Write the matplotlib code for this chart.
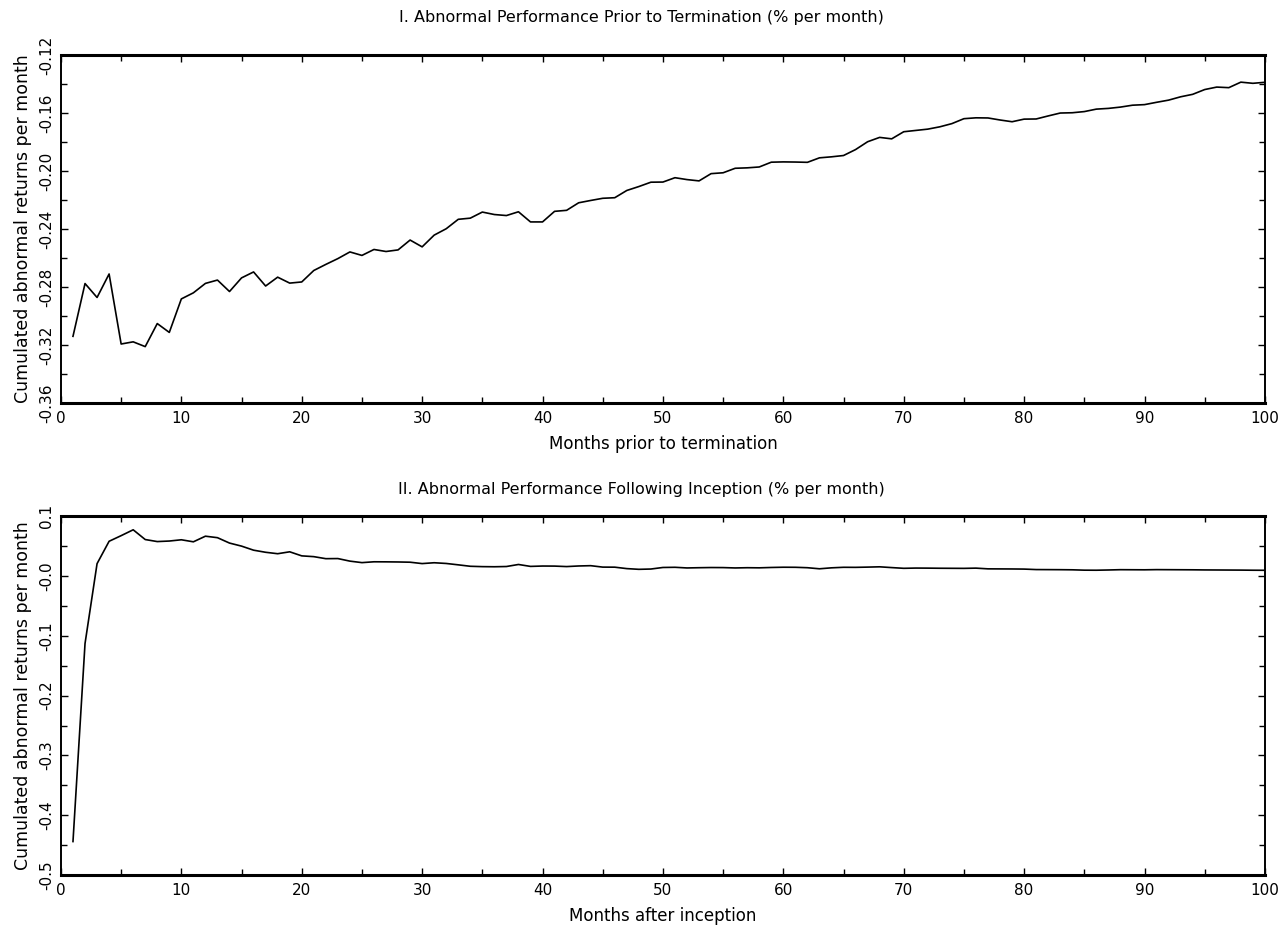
import matplotlib.pyplot as plt
from matplotlib.ticker import MultipleLocator

months = list(range(1, 101))

# panel I: cumulated abnormal returns before termination
car_prior = [
    -0.3140, -0.2776, -0.2872, -0.2710, -0.3193, -0.3178, -0.3211, -0.3052, -0.3113, -0.2882,
    -0.2840, -0.2775, -0.2752, -0.2831, -0.2737, -0.2696, -0.2793, -0.2732, -0.2773, -0.2765,
    -0.2686, -0.2644, -0.2604, -0.2558, -0.2582, -0.2541, -0.2555, -0.2544, -0.2476, -0.2523,
    -0.2442, -0.2398, -0.2333, -0.2325, -0.2283, -0.2300, -0.2307, -0.2281, -0.2351, -0.2351,
    -0.2278, -0.2271, -0.2219, -0.2203, -0.2188, -0.2184, -0.2134, -0.2107, -0.2077, -0.2076,
    -0.2046, -0.2059, -0.2068, -0.2018, -0.2012, -0.1981, -0.1978, -0.1972, -0.1939, -0.1937,
    -0.1938, -0.1940, -0.1909, -0.1902, -0.1893, -0.1852, -0.1798, -0.1768, -0.1778, -0.1729,
    -0.1720, -0.1711, -0.1695, -0.1673, -0.1639, -0.1633, -0.1634, -0.1648, -0.1660, -0.1642,
    -0.1641, -0.1620, -0.1600, -0.1598, -0.1590, -0.1573, -0.1568, -0.1559, -0.1546, -0.1542,
    -0.1526, -0.1511, -0.1488, -0.1471, -0.1438, -0.1421, -0.1425, -0.1387, -0.1395, -0.1388,
]

# panel II: cumulated abnormal returns after inception
car_after = [
    -0.4440, -0.1130, 0.0206, 0.0580, 0.0674, 0.0772, 0.0609, 0.0575, 0.0584, 0.0605,
    0.0571, 0.0665, 0.0640, 0.0550, 0.0499, 0.0431, 0.0396, 0.0372, 0.0404, 0.0336,
    0.0323, 0.0289, 0.0291, 0.0248, 0.0223, 0.0237, 0.0236, 0.0234, 0.0230, 0.0207,
    0.0221, 0.0209, 0.0186, 0.0162, 0.0156, 0.0154, 0.0158, 0.0192, 0.0160, 0.0166,
    0.0165, 0.0157, 0.0167, 0.0172, 0.0148, 0.0147, 0.0123, 0.0111, 0.0116, 0.0142,
    0.0145, 0.0134, 0.0138, 0.0141, 0.0140, 0.0134, 0.0138, 0.0136, 0.0142, 0.0146,
    0.0145, 0.0138, 0.0120, 0.0136, 0.0145, 0.0144, 0.0148, 0.0153, 0.0140, 0.0128,
    0.0132, 0.0131, 0.0129, 0.0128, 0.0127, 0.0131, 0.0119, 0.0118, 0.0117, 0.0115,
    0.0107, 0.0106, 0.0105, 0.0103, 0.0097, 0.0096, 0.0100, 0.0105, 0.0104, 0.0103,
    0.0106, 0.0105, 0.0104, 0.0103, 0.0101, 0.0100, 0.0099, 0.0098, 0.0096, 0.0095,
]

prior_yticks = [-0.36, -0.32, -0.28, -0.24, -0.20, -0.16, -0.12]
prior_ylabels = ['-0.36', '-0.32', '-0.28', '-0.24', '-0.20', '-0.16', '-0.12']
after_yticks = [-0.5, -0.4, -0.3, -0.2, -0.1, 0.0, 0.1]
after_ylabels = ['-0.5', '-0.4', '-0.3', '-0.2', '-0.1', '-0.0', '0.1']
xticks = [0, 10, 20, 30, 40, 50, 60, 70, 80, 90, 100]

plt.rcParams['font.family'] = ['DejaVu Sans']
fs = 11

fig = plt.figure(figsize=(12.83, 9.25), dpi=100)
ax1 = fig.add_axes([0.0475, 0.5643, 0.9384, 0.3762])
ax2 = fig.add_axes([0.0475, 0.054, 0.9384, 0.388])


def style(ax, yticks, ylabels, ymin, ymax, yminor, xlabel):
    ax.set_xlim(0, 100)
    ax.set_ylim(ymin, ymax)
    ax.set_xticks(xticks)
    ax.set_xticklabels([str(t) for t in xticks], fontsize=fs)
    ax.xaxis.set_minor_locator(MultipleLocator(5))
    ax.set_yticks(yticks)
    ax.set_yticklabels(ylabels, fontsize=fs, rotation=90, va='center')
    ax.yaxis.set_minor_locator(MultipleLocator(yminor))
    ax.tick_params(which='both', direction='in', top=True, right=True, length=5, width=1)
    ax.tick_params(which='minor', length=4)
    ax.tick_params(axis='x', pad=6)
    ax.tick_params(axis='y', pad=5)
    for s in ax.spines.values():
        s.set_linewidth(1.4)
    ax.spines['top'].set_linewidth(2.2)
    ax.spines['bottom'].set_linewidth(2.2)
    ax.set_xlabel(xlabel, fontsize=12, labelpad=6)
    ax.set_ylabel('Cumulated abnormal returns per month', fontsize=12.5, labelpad=5)


ax1.plot(months, car_prior, color='black', lw=1.2)
style(ax1, prior_yticks, prior_ylabels, -0.36, -0.12, 0.02,
      'Months prior to termination')

ax2.plot(months, car_after, color='black', lw=1.2)
style(ax2, after_yticks, after_ylabels, -0.5, 0.1, 0.05,
      'Months after inception')

fig.text(0.5, 0.9816, 'I. Abnormal Performance Prior to Termination (% per month)',
         ha='center', va='center', fontsize=11.5)
fig.text(0.5, 0.4703, 'II. Abnormal Performance Following Inception (% per month)',
         ha='center', va='center', fontsize=11.5)

fig.savefig('out.png', dpi=100)
